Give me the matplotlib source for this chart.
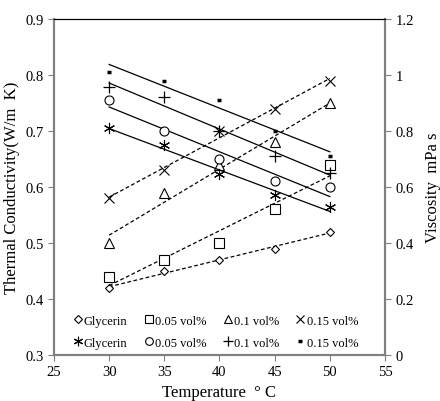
import numpy as np
import matplotlib.pyplot as plt

plt.rcParams['font.family'] = ['Liberation Serif', 'DejaVu Serif']

#Temperatures (C)
temp = [30, 35, 40, 45, 50]

#Thermal conductivity (W/m K), left axis
tc_glycerin = [0.42, 0.45, 0.47, 0.49, 0.52]
tc_005 = [0.44, 0.47, 0.50, 0.56, 0.64]
tc_01 = [0.50, 0.59, 0.64, 0.68, 0.75]
tc_015 = [0.58, 0.63, 0.70, 0.74, 0.79]

#Viscosity (mPa s), right axis
vis_glycerin = [0.81, 0.75, 0.645, 0.57, 0.53]
vis_005 = [0.91, 0.80, 0.70, 0.62, 0.60]
vis_01 = [0.956, 0.92, 0.80, 0.71, 0.65]
vis_015 = [1.01, 0.98, 0.91, 0.80, 0.71]

labels = ['Glycerin', '0.05 vol%', '0.1 vol%', '0.15 vol%']

fig = plt.figure(figsize=(4.4, 4.02), dpi=100)
ax = fig.add_axes([0.1227, 0.1144, 0.7523, 0.8356])
ax2 = ax.twinx()

grey = '#808080'
t = np.array(temp)

def trend(axis, y, ls):
    p = np.polyfit(t, y, 1)
    axis.plot(t, np.polyval(p, t), color='black', ls=ls, lw=0.9)

tc_handles = []
tc_markers = ['D', 's', '^', 'x']
tc_sizes = [4.5, 6.5, 6.5, 6.5]
for y, m, s in zip([tc_glycerin, tc_005, tc_01, tc_015], tc_markers, tc_sizes):
    trend(ax, y, (0, (3, 2)))
    h, = ax.plot(temp, y, ls='none', marker=m, ms=s, mfc='white' if m != 'x' else 'black',
                 mec='black', mew=0.8)
    tc_handles.append(h)

vis_handles = []
vis_markers = [(6, 2, 0), 'o', '+', '_']
vis_sizes = [8, 6.5, 8, 3.5]
vis_mew = [0.8, 0.8, 0.9, 2.5]
for y, m, s, w in zip([vis_glycerin, vis_005, vis_01, vis_015], vis_markers, vis_sizes, vis_mew):
    trend(ax2, y, '-')
    h, = ax2.plot(temp, y, ls='none', marker=m, ms=s, mfc='white', mec='black', mew=w)
    vis_handles.append(h)

ax.set_xlim(25, 55)
ax.set_ylim(0.3, 0.9)
ax2.set_ylim(0, 1.2)
ax.set_xticks([25, 30, 35, 40, 45, 50, 55])
ax.set_yticks([0.3, 0.4, 0.5, 0.6, 0.7, 0.8, 0.9])
ax2.set_yticks([0, 0.2, 0.4, 0.6, 0.8, 1.0, 1.2])
ax2.set_yticklabels(['0', '0.2', '0.4', '0.6', '0.8', '1', '1.2'])

for a in (ax, ax2):
    for side in ('left', 'right', 'bottom'):
        a.spines[side].set_color(grey)
        a.spines[side].set_linewidth(1.5)
    a.spines['top'].set_color('black')
    a.tick_params(direction='out', color=grey, length=4, labelsize=10.5)

ax.set_xlabel('Temperature  \u00b0 C', fontsize=12)
ax.set_ylabel('Thermal Conductivity(W/m  K)', fontsize=12)
ax2.set_ylabel('Viscosity  mPa s', fontsize=12, rotation=90, labelpad=8)

#legend is filled column by column, so interleave the two rows
handles = []
leg_labels = []
for i in range(4):
    handles += [tc_handles[i], vis_handles[i]]
    leg_labels += [labels[i], labels[i]]

leg = ax.legend(handles, leg_labels, ncol=4, loc='lower left', frameon=False,
                fontsize=9, handlelength=0.7, handletextpad=0.15, columnspacing=1.35,
                labelspacing=0.8, markerscale=0.85, bbox_to_anchor=(0.024, -0.015))

plt.savefig('out.png', dpi=100)
